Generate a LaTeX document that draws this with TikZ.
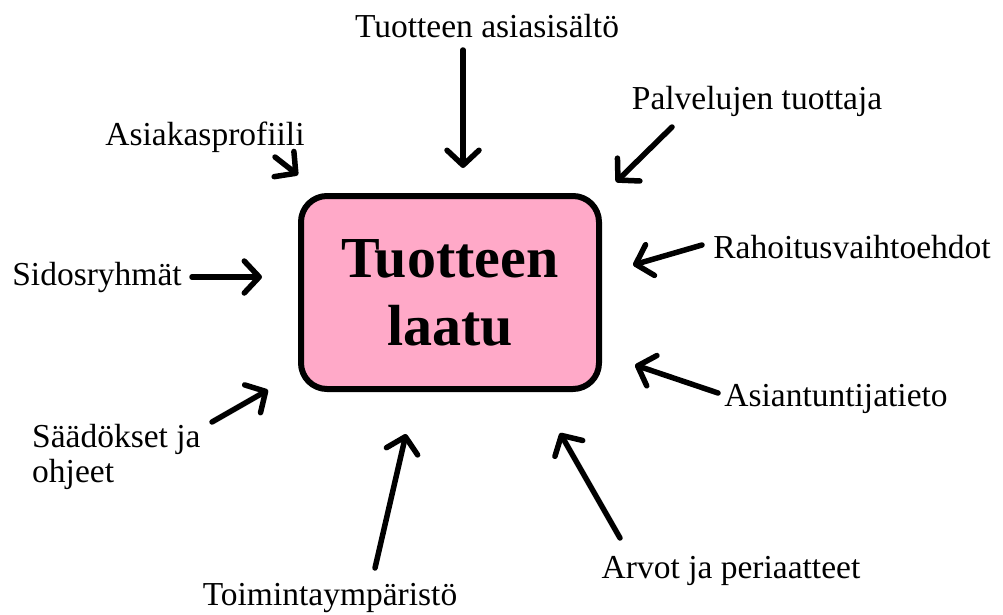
\documentclass[tikz,border=0pt]{standalone}
\usepackage{fontspec}
\setmainfont{Liberation Serif}
\usetikzlibrary{arrows.meta}
\definecolor{boxpink}{HTML}{FFA9C8}
\begin{document}
\begin{tikzpicture}[x=1pt,y=-1pt,
  lbl/.style={font=\fontsize{33.5}{35}\selectfont, inner sep=0pt, anchor=base},
  inarrow/.style={line width=5.5pt, line cap=round, line join=round,
    -{Straight Barb[length=15pt,width=32pt,line cap=round,line join=round]}},
  mainbox/.style={draw, line width=6pt, fill=boxpink, rounded corners=26pt,
    minimum width=298pt, minimum height=193pt, inner sep=0pt, align=center,
    font=\fontsize{58}{68}\selectfont\bfseries}]
\useasboundingbox (0,0) rectangle (1003,615);
\node[mainbox] (box) at (450,292.5) {Tuotteen\\laatu};

\node[lbl] (t1) at (487,38) {Tuotteen asiasisältö};
\node[lbl] (t2) at (757,110) {Palvelujen tuottaja};
\node[lbl] (t3) at (205,145) {Asiakasprofiili};
\node[lbl] (t4) at (97,285) {Sidosryhmät};
\node[lbl] (t5) at (852,258) {Rahoitusvaihtoehdot};
\node[lbl] (t6) at (836,406) {Asiantuntijatieto};
\node[lbl, anchor=base west, align=left] (t7) at (32,482) {Säädökset ja\\ohjeet};
\node[lbl] (t8) at (330,605) {Toimintaympäristö};
\node[lbl] (t9) at (731,578) {Arvot ja periaatteet};

\coordinate (a1s) at (463,50);  \coordinate (a1e) at (463,168);
\coordinate (a2s) at (672,127); \coordinate (a2e) at (616,182);
\coordinate (a3s) at (275,157); \coordinate (a3e) at (298,175);
\coordinate (a4s) at (192,277); \coordinate (a4e) at (262,277);
\coordinate (a5s) at (702,245); \coordinate (a5e) at (633,265);
\coordinate (a6s) at (718,393); \coordinate (a6e) at (635,365);
\coordinate (a7s) at (212,422); \coordinate (a7e) at (268,390);
\coordinate (a8s) at (375,568); \coordinate (a8e) at (406,434);
\coordinate (a9s) at (620,538); \coordinate (a9e) at (560,433);

\foreach \i in {1,...,9} \draw[inarrow] (a\i s) -- (a\i e);
\end{tikzpicture}
\end{document}
